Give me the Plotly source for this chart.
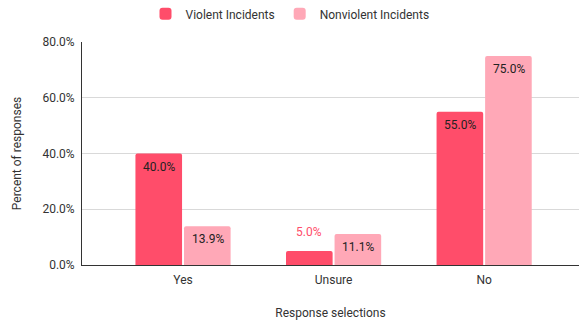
import plotly.graph_objects as go

categories = ["Yes", "Unsure", "No"]
violent = [0.40, 0.05, 0.55]
nonviolent = [0.139, 0.111, 0.75]
violent_label_outside = [False, True, False]
y_ticks = [0, 0.2, 0.4, 0.6, 0.8]

VIOLENT_COLOR = "#ff4d6a"
NONVIOLENT_COLOR = "#ffa8b7"
TEXT_DARK = "#222222"
FONT = "Roboto"
BAR_OFFSET_PX = 24.5

fig = go.Figure()
fig.add_trace(go.Bar(
    name="Violent Incidents", x=categories, y=violent,
    marker=dict(color=VIOLENT_COLOR, line=dict(width=0)),
    hoverinfo="skip",
))
fig.add_trace(go.Bar(
    name="Nonviolent Incidents", x=categories, y=nonviolent,
    marker=dict(color=NONVIOLENT_COLOR, line=dict(width=0)),
    hoverinfo="skip",
))

annotations = []
for cat, v, out in zip(categories, violent, violent_label_outside):
    annotations.append(dict(
        x=cat, y=v, xref="x", yref="y", text=f"{v*100:.1f}%",
        showarrow=False, xshift=-BAR_OFFSET_PX, yshift=19 if out else -13,
        yanchor="middle",
        font=dict(size=12, family=FONT, color=VIOLENT_COLOR if out else TEXT_DARK),
    ))
for cat, v in zip(categories, nonviolent):
    annotations.append(dict(
        x=cat, y=v, xref="x", yref="y", text=f"{v*100:.1f}%",
        showarrow=False, xshift=BAR_OFFSET_PX, yshift=-13, yanchor="middle",
        font=dict(size=12, family=FONT, color=TEXT_DARK),
    ))

fig.update_layout(
    width=580, height=322,
    margin=dict(l=82, r=1, t=42, b=57),
    paper_bgcolor="white", plot_bgcolor="white",
    font=dict(family=FONT, size=12, color="#333333"),
    barmode="group", bargap=0.355, bargroupgap=0.04,
    barcornerradius=2,
    annotations=annotations,
    legend=dict(orientation="h", x=0.5, xanchor="center", xref="container",
                y=0.957, yanchor="middle", yref="container",
                font=dict(size=12, color="#333333"),
                itemwidth=30, traceorder="normal"),
    showlegend=True,
)
fig.update_xaxes(
    range=[-0.671, 2.63],
    showline=True, linecolor="#333333", linewidth=1,
    showgrid=False, ticks="", ticklabelstandoff=4,
    tickfont=dict(size=12, color="#333333"),
    title=dict(text="Response selections", font=dict(size=12, color="#333333"), standoff=22),
)
fig.update_yaxes(
    range=[0, 0.8], tickvals=y_ticks, tickformat=".1%",
    showline=True, linecolor="#333333", linewidth=1,
    showgrid=True, gridcolor="#d9d9d9", gridwidth=1,
    zeroline=False, ticks="", ticklen=0, ticklabelstandoff=4,
    tickfont=dict(size=12, color="#333333"),
    title=dict(text="Percent of responses", font=dict(size=12, color="#333333"), standoff=18),
)

fig.write_html("out.html")
